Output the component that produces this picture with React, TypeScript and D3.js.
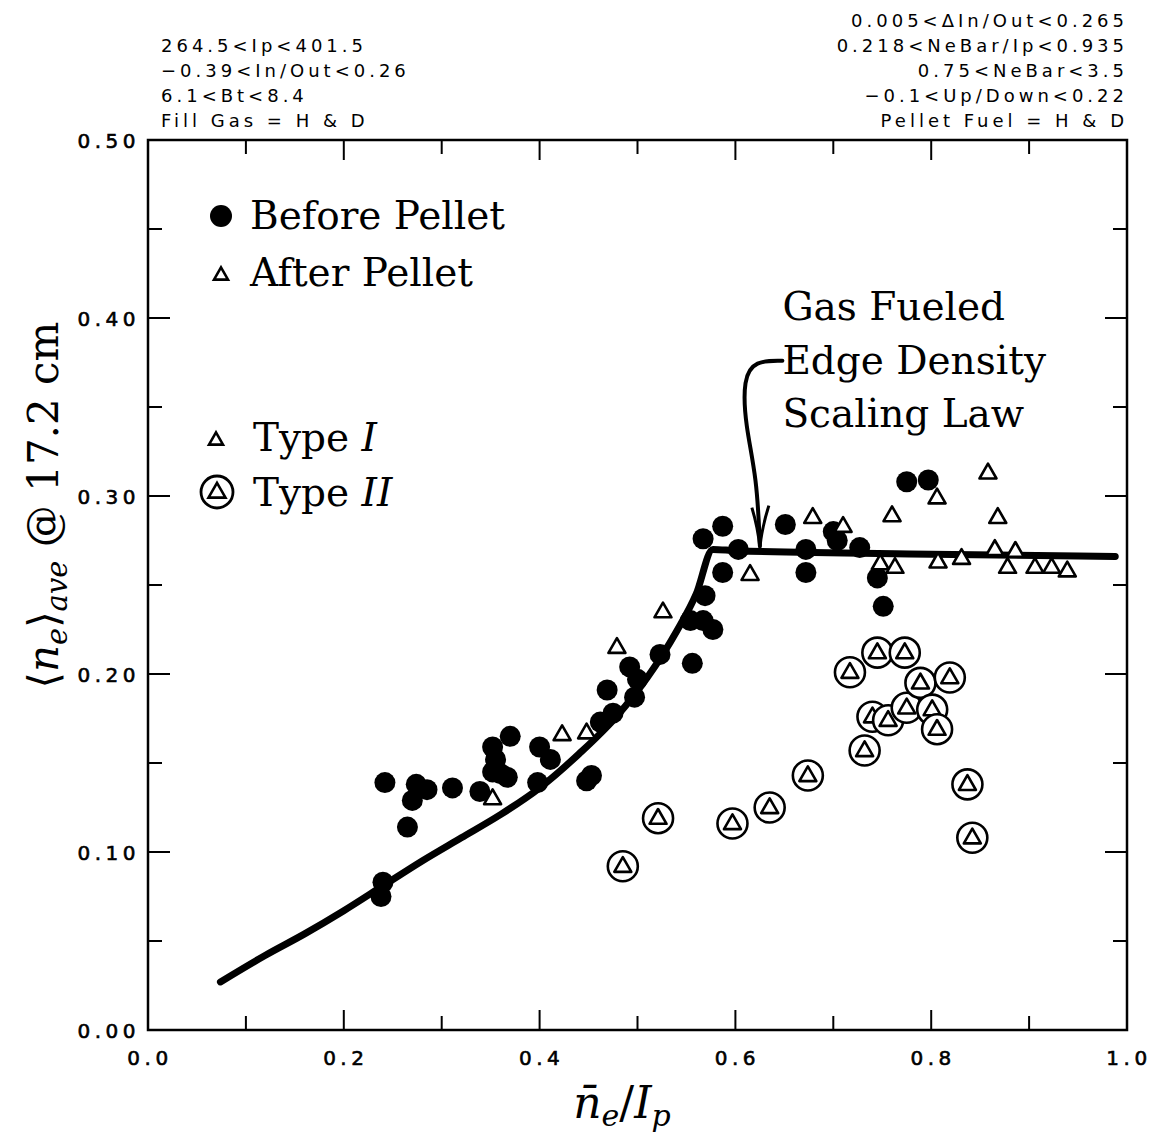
import * as d3 from 'd3';

// n̄e/Ip vs <ne>ave
const beforePellet: [number, number][] = [
  [0.242, 0.139], [0.240, 0.083], [0.238, 0.075], [0.265, 0.114], [0.270, 0.129],
  [0.274, 0.138], [0.285, 0.135], [0.311, 0.136], [0.339, 0.134], [0.352, 0.159],
  [0.370, 0.165], [0.352, 0.145], [0.360, 0.144], [0.367, 0.142], [0.355, 0.152],
  [0.398, 0.139], [0.400, 0.159], [0.411, 0.152], [0.448, 0.140], [0.453, 0.143],
  [0.462, 0.173], [0.469, 0.191], [0.475, 0.178], [0.492, 0.204], [0.497, 0.187],
  [0.500, 0.197], [0.523, 0.211], [0.556, 0.206], [0.554, 0.230], [0.567, 0.230],
  [0.577, 0.225], [0.569, 0.244], [0.567, 0.276], [0.587, 0.283], [0.587, 0.257],
  [0.603, 0.270], [0.651, 0.284], [0.672, 0.270], [0.672, 0.257], [0.700, 0.280],
  [0.704, 0.275], [0.727, 0.271], [0.745, 0.254], [0.751, 0.238], [0.775, 0.308],
  [0.797, 0.309],
];

const afterPellet: [number, number][] = [
  [0.352, 0.130], [0.423, 0.166], [0.448, 0.167], [0.479, 0.215], [0.526, 0.235],
  [0.615, 0.256], [0.679, 0.288], [0.710, 0.283], [0.748, 0.262], [0.763, 0.260],
  [0.760, 0.289], [0.806, 0.299], [0.858, 0.313], [0.868, 0.288], [0.807, 0.263],
  [0.831, 0.265], [0.865, 0.270], [0.886, 0.269], [0.878, 0.260], [0.906, 0.260],
  [0.923, 0.260], [0.939, 0.258],
];

const typeII: [number, number][] = [
  [0.485, 0.092], [0.521, 0.119], [0.597, 0.116], [0.635, 0.125], [0.674, 0.143],
  [0.717, 0.201], [0.732, 0.157], [0.740, 0.176], [0.745, 0.212], [0.756, 0.174],
  [0.773, 0.212], [0.775, 0.181], [0.789, 0.195], [0.801, 0.180], [0.806, 0.169],
  [0.819, 0.198], [0.837, 0.138], [0.842, 0.108],
];

// gas fueled edge density scaling law
const scalingLaw: [number, number][] = [
  [0.074, 0.027], [0.12, 0.042], [0.16, 0.054], [0.20, 0.067], [0.24, 0.081],
  [0.28, 0.095], [0.32, 0.108], [0.36, 0.121], [0.40, 0.136], [0.44, 0.155],
  [0.48, 0.177], [0.51, 0.198], [0.54, 0.224], [0.56, 0.245], [0.577, 0.270],
  [0.60, 0.2693], [0.80, 0.2673], [0.988, 0.266],
];

const xTickLabels = ['0.0', '0.2', '0.4', '0.6', '0.8', '1.0'];
const yTickLabels = ['0.00', '0.10', '0.20', '0.30', '0.40', '0.50'];

const leftHeader = ['264.5<Ip<401.5', '\u22120.39<In/Out<0.26', '6.1<Bt<8.4', 'Fill Gas = H & D'];
const rightHeader = ['0.005<\u0394In/Out<0.265', '0.218<NeBar/Ip<0.935', '0.75<NeBar<3.5', '\u22120.1<Up/Down<0.22', 'Pellet Fuel = H & D'];

const annotation = ['Gas Fueled', 'Edge Density', 'Scaling Law'];

const W = 1155;
const H = 1146;
const serif = '"DejaVu Serif", serif';
const plotFont = '"DejaVu Sans", sans-serif';

function tri(s: number) {
  const h = s * 0.87;
  return `M0,${-h * 0.62}L${s / 2},${h * 0.38}L${-s / 2},${h * 0.38}Z`;
}

export default function App() {
  const x = d3.scaleLinear().domain([0, 1]).range([148, 1127]);
  const y = d3.scaleLinear().domain([0, 0.5]).range([1030, 140]);

  const line = d3.line<[number, number]>()
    .x(d => x(d[0]))
    .y(d => y(d[1]))
    .curve(d3.curveMonotoneX);

  const ticks = d3.range(0, 1.0001, 0.1);
  const yTicks = d3.range(0, 0.5001, 0.05);

  // arrow from the label down to the flat part of the law
  const arrow = d3.line<[number, number]>()
    .x(d => x(d[0]))
    .y(d => y(d[1]))
    .curve(d3.curveBasis)([
      [0.648, 0.376], [0.620, 0.376], [0.608, 0.366], [0.610, 0.340], [0.622, 0.310], [0.625, 0.272],
    ]);
  const tipX = x(0.625), tipY = y(0.271);

  return (
    <svg width={W} height={H} style={{ position: 'absolute', left: 0, top: 0, background: '#fff' }}>
      {/* header text */}
      <g fontFamily={plotFont} fontSize={18} letterSpacing={4} fill="#000">
        {leftHeader.map((t, i) => (
          <text key={t} x={161} y={52 + i * 25}>{t}</text>
        ))}
        {rightHeader.map((t, i) => (
          <text key={t} x={1128} y={27 + i * 25} textAnchor="end">{t}</text>
        ))}
      </g>

      {/* frame + ticks */}
      <rect x={x(0)} y={y(0.5)} width={x(1) - x(0)} height={y(0) - y(0.5)} fill="none" stroke="#000" strokeWidth={2.5} />
      <g stroke="#000" strokeWidth={2}>
        {ticks.slice(1, -1).map((t, i) => {
          const len = i % 2 === 1 ? 20 : 14;
          return (
            <g key={'xt' + i}>
              <line x1={x(t)} x2={x(t)} y1={y(0)} y2={y(0) - len} />
              <line x1={x(t)} x2={x(t)} y1={y(0.5)} y2={y(0.5) + len} />
            </g>
          );
        })}
        {yTicks.slice(1, -1).map((t, i) => {
          const len = i % 2 === 1 ? 22 : 14;
          return (
            <g key={'yt' + i}>
              <line x1={x(0)} x2={x(0) + len} y1={y(t)} y2={y(t)} />
              <line x1={x(1)} x2={x(1) - len} y1={y(t)} y2={y(t)} />
            </g>
          );
        })}
      </g>

      {/* tick labels */}
      <g fontFamily={plotFont} fontSize={20} letterSpacing={4.5} fill="#000" stroke="#000" strokeWidth={0.6}>
        {xTickLabels.map(l => (
          <text key={l} x={x(+l) + 2} y={y(0) + 35} textAnchor="middle">{l}</text>
        ))}
        {yTickLabels.map(l => (
          <text key={l} x={x(0) - 8} y={y(+l) + 8} textAnchor="end">{l}</text>
        ))}
      </g>

      {/* scaling law */}
      <path d={line(scalingLaw) ?? ''} fill="none" stroke="#000" strokeWidth={7} strokeLinecap="round" strokeLinejoin="round" />

      {/* before pellet */}
      {beforePellet.map((d, i) => (
        <circle key={'b' + i} cx={x(d[0])} cy={y(d[1])} r={10.5} fill="#000" />
      ))}

      {/* after pellet, type I */}
      {afterPellet.map((d, i) => (
        <path key={'a' + i} d={tri(17)} transform={`translate(${x(d[0])},${y(d[1])})`} fill="#fff" stroke="#000" strokeWidth={2.6} strokeLinejoin="round" />
      ))}

      {/* type II */}
      {typeII.map((d, i) => (
        <g key={'t' + i} transform={`translate(${x(d[0])},${y(d[1])})`}>
          <circle r={15} fill="#fff" stroke="#000" strokeWidth={2.6} />
          <path d={tri(17)} fill="none" stroke="#000" strokeWidth={2.6} strokeLinejoin="round" />
        </g>
      ))}

      {/* arrow */}
      <path d={arrow ?? ''} fill="none" stroke="#000" strokeWidth={4} strokeLinecap="round" />
      <path d={`M${tipX - 8},${tipY - 40}Q${tipX - 2},${tipY - 20} ${tipX},${tipY}Q${tipX + 2},${tipY - 20} ${tipX + 9},${tipY - 42}`} fill="none" stroke="#000" strokeWidth={3} strokeLinejoin="round" />

      {/* annotation */}
      <g fontFamily={serif} fontSize={39} fill="#000">
        {annotation.map((t, i) => (
          <text key={t} x={x(0.648)} y={y(0.399 - i * 0.0302)}>{t}</text>
        ))}
      </g>

      {/* legend */}
      <g fontFamily={serif} fontSize={39} fill="#000">
        <circle cx={221} cy={216} r={11} fill="#000" />
        <text x={250} y={229}>Before Pellet</text>
        <path d={tri(14)} transform="translate(221,275)" fill="#fff" stroke="#000" strokeWidth={2.6} />
        <text x={250} y={286}>After Pellet</text>
        <path d={tri(14)} transform="translate(216,440)" fill="#fff" stroke="#000" strokeWidth={2.6} />
        <text x={253} y={451}>Type <tspan fontStyle="italic">I</tspan></text>
        <g transform="translate(217,492)">
          <circle r={16} fill="#fff" stroke="#000" strokeWidth={2.8} />
          <path d={tri(17)} fill="none" stroke="#000" strokeWidth={2.6} />
        </g>
        <text x={253} y={506}>Type <tspan fontStyle="italic">II</tspan></text>
      </g>

      {/* axis titles */}
      <text transform={`translate(58,${505}) rotate(-90)`} textAnchor="middle" fontFamily={serif} fontSize={42} fill="#000">
        <tspan>{'\u27E8'}</tspan>
        <tspan fontStyle="italic">n</tspan>
        <tspan fontStyle="italic" fontSize={29} dy={9}>e</tspan>
        <tspan dy={-9}>{'\u27E9'}</tspan>
        <tspan fontStyle="italic" fontSize={29} dy={9}>ave</tspan>
        <tspan dy={-9}>{' @ 17.2 cm'}</tspan>
      </text>
      <text x={622} y={1118} textAnchor="middle" fontFamily={serif} fontSize={44} fill="#000">
        <tspan fontStyle="italic">{'n\u0304'}</tspan>
        <tspan fontStyle="italic" fontSize={30} dy={8}>e</tspan>
        <tspan dy={-8}>/</tspan>
        <tspan fontStyle="italic">I</tspan>
        <tspan fontStyle="italic" fontSize={30} dy={8}>p</tspan>
      </text>
    </svg>
  );
}
